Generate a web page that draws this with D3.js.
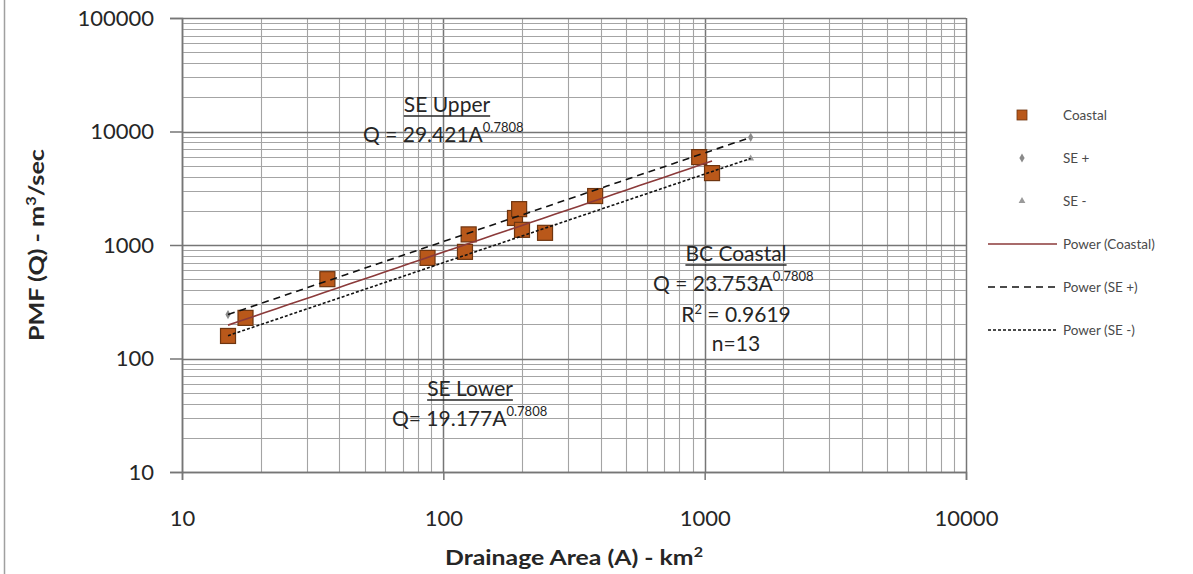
<!DOCTYPE html>
<html>
<head>
<meta charset="utf-8">
<script src="https://cdn.jsdelivr.net/npm/d3@7"></script>
<style>
  html, body { margin: 0; padding: 0; background: #fff; }
  svg { display: block; font-family: Lato, "Open Sans", sans-serif; }
</style>
</head>
<body>
<svg id="chart" width="1193" height="574"></svg>
<script>
// Coastal catchments: drainage area (km²) and PMF (m³/s)
const areaCoastal = [15, 17.5, 36, 87, 121, 125, 188, 195, 200, 245, 381, 953, 1067];
const pmfCoastal  = [158, 228, 500, 770, 870, 1240, 1730, 2070, 1360, 1280, 2700, 5950, 4300];

// Standard-error envelope series
const areaSE = [15, 1500];
const coefCoastal = 23.753, coefUpper = 29.421, coefLower = 19.177, expo = 0.7808;
const pmfSEPlus  = areaSE.map(a => coefUpper * Math.pow(a, expo));
const pmfSEMinus = areaSE.map(a => coefLower * Math.pow(a, expo));

const xTicks = [10, 100, 1000, 10000];
const yTicks = [10, 100, 1000, 10000, 100000];
const legendLabels = ["Coastal", "SE +", "SE -", "Power (Coastal)", "Power (SE +)", "Power (SE -)"];

const svg = d3.select("#chart");
const W = 1193, H = 574;
const plot = { left: 182, right: 966, top: 18, bottom: 472 };
const ink = "#262626";

const x = d3.scaleLog().domain([10, 10000]).range([plot.left, plot.right]);
const y = d3.scaleLog().domain([10, 100000]).range([plot.bottom, plot.top]);

// outer frame edge on the left
svg.append("line").attr("x1", 4.5).attr("x2", 4.5).attr("y1", 0).attr("y2", H)
  .attr("stroke", "#a0a0a0").attr("stroke-width", 1.5);

// log grid: minor lines at 2..9 of every decade, major lines at decades
const gridVals = (dom) => {
  const out = [];
  for (let d = dom[0]; d < dom[1]; d *= 10) for (let k = 1; k <= 9; k++) out.push({ v: k * d, major: k === 1 });
  out.push({ v: dom[1], major: true });
  return out;
};
const grid = svg.append("g");
grid.selectAll("line.gx").data(gridVals([10, 10000])).join("line")
  .attr("x1", d => Math.round(x(d.v)) + 0.5).attr("x2", d => Math.round(x(d.v)) + 0.5)
  .attr("y1", plot.top).attr("y2", plot.bottom)
  .attr("stroke", d => d.major ? "#767676" : "#a4a4a4")
  .attr("stroke-width", d => d.major ? 1.5 : 1.1);
grid.selectAll("line.gy").data(gridVals([10, 100000])).join("line")
  .attr("y1", d => Math.round(y(d.v)) + 0.5).attr("y2", d => Math.round(y(d.v)) + 0.5)
  .attr("x1", plot.left).attr("x2", plot.right)
  .attr("stroke", d => d.major ? "#767676" : "#a4a4a4")
  .attr("stroke-width", d => d.major ? 1.5 : 1.1);

// axes
const yAxis = d3.axisLeft(y).tickValues(yTicks).tickFormat(d3.format("d")).tickSize(12).tickPadding(16);
const xAxis = d3.axisBottom(x).tickValues(xTicks).tickFormat(d3.format("d")).tickSize(8).tickPadding(30);
const gy = svg.append("g").attr("transform", `translate(${plot.left},0)`).call(yAxis);
const gx = svg.append("g").attr("transform", `translate(0,${plot.bottom})`).call(xAxis);
[gy, gx].forEach(g => {
  g.select(".domain").attr("stroke", "#767676").attr("stroke-width", 1.5);
  g.selectAll(".tick line").attr("stroke", "#767676").attr("stroke-width", 1.5);
  g.selectAll(".tick text").attr("fill", ink).style("font-size", "22px")
    .style("font-family", "Lato, 'Open Sans', sans-serif");
});

// axis titles
const yTitle = svg.append("text").attr("transform", `translate(44,${(plot.top + plot.bottom) / 2}) rotate(-90)`)
  .attr("text-anchor", "middle").style("font-size", "20px").style("font-weight", "bold").attr("fill", ink)
  .attr("textLength", 192).attr("lengthAdjust", "spacingAndGlyphs");
yTitle.append("tspan").text("PMF (Q) - m");
yTitle.append("tspan").text("3").attr("dy", -8).style("font-size", "13px");
yTitle.append("tspan").text("/sec").attr("dy", 8);

const xTitle = svg.append("text").attr("x", (plot.left + plot.right) / 2).attr("y", 565)
  .attr("text-anchor", "middle").style("font-size", "20px").style("font-weight", "bold").attr("fill", ink)
  .attr("textLength", 258).attr("lengthAdjust", "spacingAndGlyphs");
xTitle.append("tspan").text("Drainage Area (A) - km");
xTitle.append("tspan").text("2").attr("dy", -8).style("font-size", "13px");

// power trend lines
const powerLine = (coef, a0, a1) => {
  const pts = d3.range(0, 41).map(i => {
    const a = Math.pow(10, Math.log10(a0) + (Math.log10(a1) - Math.log10(a0)) * i / 40);
    return [a, coef * Math.pow(a, expo)];
  });
  return d3.line().x(d => x(d[0])).y(d => y(d[1]))(pts);
};
const trends = [
  { coef: coefUpper, a: d3.extent(areaSE), stroke: "#111", dash: "7,5", w: 1.6 },
  { coef: coefLower, a: d3.extent(areaSE), stroke: "#111", dash: "3,2", w: 1.6 },
  { coef: coefCoastal, a: d3.extent(areaCoastal), stroke: "#8b3a3a", dash: null, w: 1.6 }
];

// envelope markers
const diamond = d3.symbol().type(d3.symbolDiamond).size(24);
const tri = d3.symbol().type(d3.symbolTriangle).size(20);
svg.append("g").selectAll("path").data(areaSE.map((a, i) => [a, pmfSEPlus[i]])).join("path")
  .attr("d", diamond).attr("transform", d => `translate(${x(d[0])},${y(d[1])})`).attr("fill", "#8a8a8a");
svg.append("g").selectAll("path").data(areaSE.map((a, i) => [a, pmfSEMinus[i]])).join("path")
  .attr("d", tri).attr("transform", d => `translate(${x(d[0])},${y(d[1])})`).attr("fill", "#9a9a9a");

// coastal data squares
const sq = 15;
svg.append("g").selectAll("rect").data(areaCoastal.map((a, i) => [a, pmfCoastal[i]])).join("rect")
  .attr("x", d => x(d[0]) - sq / 2).attr("y", d => y(d[1]) - sq / 2)
  .attr("width", sq).attr("height", sq)
  .attr("fill", "#b9581a").attr("stroke", "#6e3510").attr("stroke-width", 1.2);

svg.append("g").selectAll("path").data(trends).join("path")
  .attr("d", d => powerLine(d.coef, d.a[0], d.a[1]))
  .attr("fill", "none").attr("stroke", d => d.stroke).attr("stroke-width", d => d.w)
  .attr("stroke-dasharray", d => d.dash);

// equation annotations
const note = (cx, yTop, title, eq, extra) => {
  const g = svg.append("g").attr("fill", ink).style("font-size", "21px");
  const t = g.append("text").attr("x", cx).attr("y", yTop).attr("text-anchor", "middle").text(title);
  const len = t.node().getComputedTextLength();
  g.append("line").attr("x1", cx - len / 2).attr("x2", cx + len / 2)
    .attr("y1", yTop + 4).attr("y2", yTop + 4).attr("stroke", ink).attr("stroke-width", 1.5);
  const e = g.append("text").attr("x", eq.x).attr("y", yTop + 30);
  e.append("tspan").text(eq.text);
  e.append("tspan").text(expo.toFixed(4)).attr("dy", -10).style("font-size", "13px");
  (extra || []).forEach((s, i) => {
    g.append("text").attr("x", cx).attr("y", yTop + 61 + 29 * i).attr("text-anchor", "middle").html(s);
  });
};
note(447, 112, "SE Upper", { x: 363, text: `Q = ${coefUpper}A` });
note(470, 396, "SE Lower", { x: 392, text: `Q= ${coefLower}A` });
note(736, 261, "BC Coastal", { x: 653, text: `Q = ${coefCoastal}A` },
  ["R<tspan dy='-8' style='font-size:13px'>2</tspan><tspan dy='8'> = 0.9619</tspan>", "n=13"]);

// legend
const lg = svg.append("g").style("font-size", "13.5px").attr("fill", "#4a4a4a");
const rowY = [115, 158, 201, 244, 287, 330];
legendLabels.forEach((lab, i) => {
  lg.append("text").attr("x", 1063).attr("y", rowY[i] + 5).text(lab);
});
lg.append("rect").attr("x", 1017).attr("y", rowY[0] - 5).attr("width", 10).attr("height", 10)
  .attr("fill", "#b9581a").attr("stroke", "#6e3510").attr("stroke-width", 0.8);
lg.append("path").attr("d", diamond).attr("transform", `translate(1022,${rowY[1]})`).attr("fill", "#8a8a8a");
lg.append("path").attr("d", tri).attr("transform", `translate(1022,${rowY[2]})`).attr("fill", "#9a9a9a");
[[null, "#8b3a3a"], ["7,5", "#111"], ["3,2", "#111"]].forEach((s, i) => {
  lg.append("line").attr("x1", 988).attr("x2", 1057).attr("y1", rowY[3 + i]).attr("y2", rowY[3 + i])
    .attr("stroke", s[1]).attr("stroke-width", 1.6).attr("stroke-dasharray", s[0]);
});
</script>
</body>
</html>
